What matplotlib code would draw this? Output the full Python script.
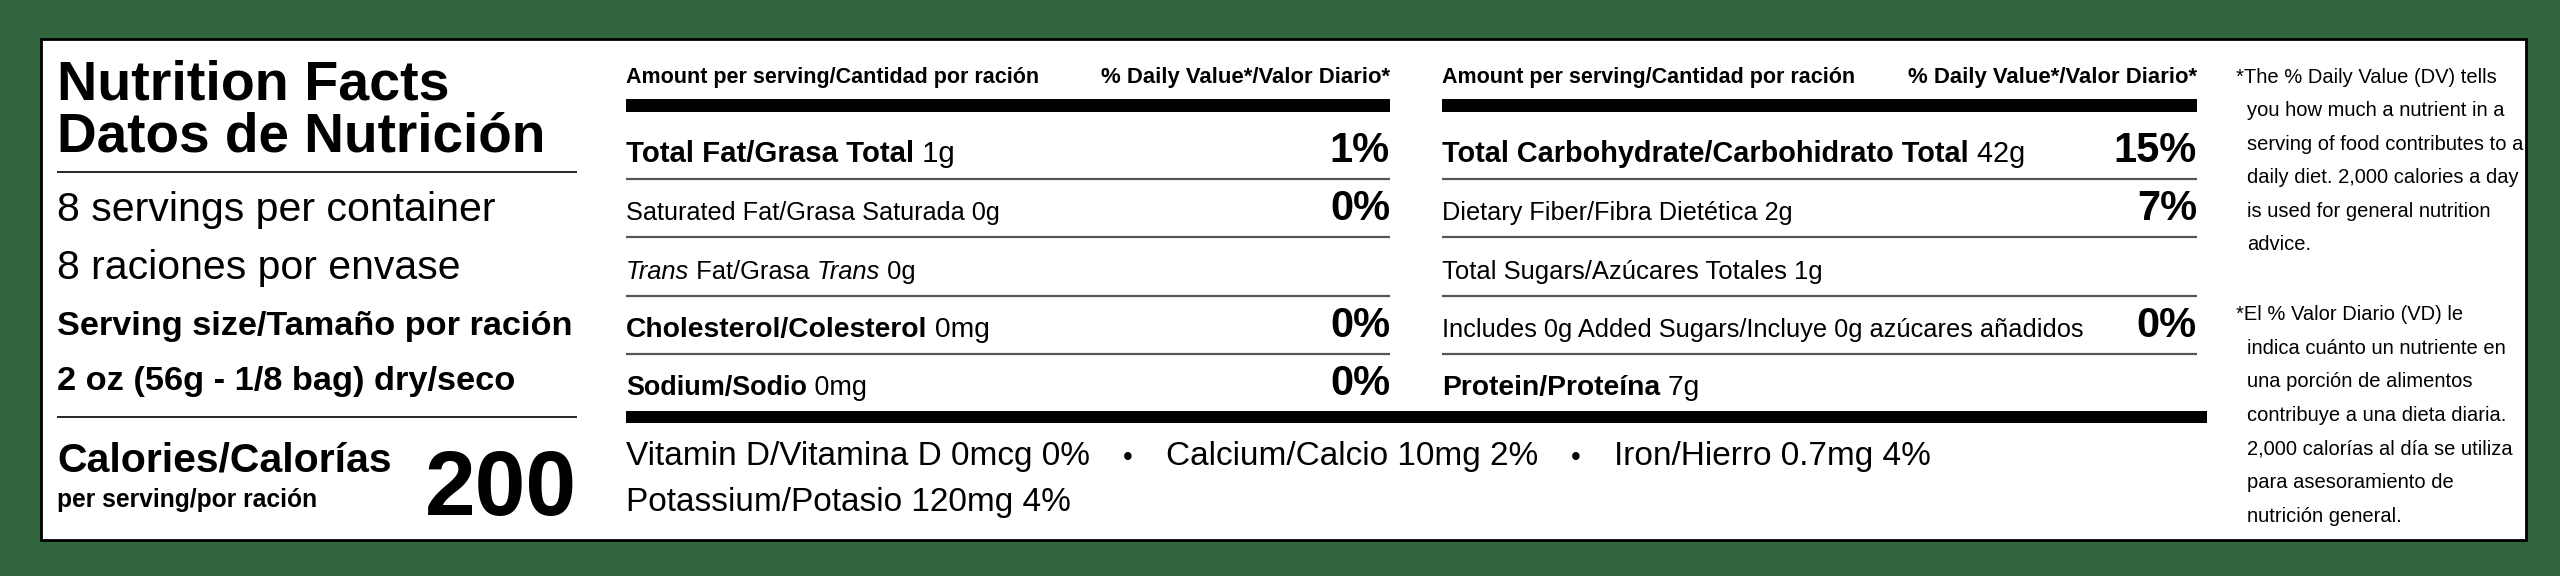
import matplotlib
matplotlib.use("Agg")
import matplotlib.pyplot as plt

# label content
servings = ["8 servings per container", "8 raciones por envase"]
serving_size = ["Serving size/Tamaño por ración", "2 oz (56g - 1/8 bag) dry/seco"]
calories = 200

left_rows = [  # (bold part, light part, daily value, row width in the label)
    ("Total Fat/Grasa Total", " 1g", "1%", 329),
    ("", "Saturated Fat/Grasa Saturada 0g", "0%", 374),
    ("", "Trans Fat/Grasa Trans 0g", "", 290),
    ("Cholesterol/Colesterol", " 0mg", "0%", 364),
    ("Sodium/Sodio", " 0mg", "0%", 242),
]
right_rows = [
    ("Total Carbohydrate/Carbohidrato Total", " 42g", "15%", 583),
    ("", "Dietary Fiber/Fibra Dietética 2g", "7%", 350),
    ("", "Total Sugars/Azúcares Totales 1g", "", 380),
    ("", "Includes 0g Added Sugars/Incluye 0g azúcares añadidos", "0%", 638),
    ("Protein/Proteína", " 7g", "", 258),
]
vitamins = ["Vitamin D/Vitamina D 0mcg 0%", "Calcium/Calcio 10mg 2%", "Iron/Hierro 0.7mg 4%"]
potassium = "Potassium/Potasio 120mg 4%"
foot_en = ["*The % Daily Value (DV) tells", "you how much a nutrient in a",
           "serving of food contributes to a", "daily diet. 2,000 calories a day",
           "is used for general nutrition", "advice."]
foot_es = ["*El % Valor Diario (VD) le", "indica cuánto un nutriente en",
           "una porción de alimentos", "contribuye a una dieta diaria.",
           "2,000 calorías al día se utiliza", "para asesoramiento de",
           "nutrición general."]

FAM = ["Liberation Sans", "DejaVu Sans"]

fig = plt.figure(figsize=(25.6, 5.76), dpi=100, facecolor="#32663f")
ax = fig.add_axes([0, 0, 1, 1])
ax.set_xlim(0, 2560)
ax.set_ylim(576, 0)
ax.axis("off")
ax.add_patch(plt.Rectangle((41, 39), 2485, 501, facecolor="white", edgecolor="black", lw=2))
renderer = fig.canvas.get_renderer()


def width(t):
    return t.get_window_extent(renderer).width


def txt(x, y, s, size, weight="normal", ha="left", style="normal", w=None):
    t = ax.text(x, y, s, fontsize=size, fontweight=weight, family=FAM,
                ha=ha, va="baseline", fontstyle=style, color="black")
    if w:
        t.set_fontsize(size * w / width(t))
    return t


def run(x, y, parts, size, w):
    # measure first, then draw at a size that gives the reference width
    tmp = [txt(0, 0, s, size, weight=wt, style=st) for s, wt, st in parts]
    total = sum(width(t) for t in tmp)
    for t in tmp:
        t.remove()
    size = size * w / total
    for s, wt, st in parts:
        t = txt(x, y, s, size, weight=wt, style=st)
        x = t.get_window_extent(renderer).x1


def hline(x0, x1, y, lw, color="black"):
    ax.plot([x0, x1], [y, y], color=color, lw=lw, solid_capstyle="butt")


# left block
txt(57, 99, "Nutrition Facts", 40, "bold", w=392)
txt(57, 151, "Datos de Nutrición", 40, "bold", w=488)
hline(57, 577, 172, 1.2)
txt(57, 221, servings[0], 29, w=439)
txt(57, 279, servings[1], 29, w=404)
txt(57, 335, serving_size[0], 28, "bold", w=516)
txt(57, 390, serving_size[1], 28, "bold", w=458)
hline(57, 577, 417, 1.2)
txt(57, 472, "Calories/Calorías", 35, "bold", w=335)
txt(57, 507, "per serving/por ración", 20, "bold", w=259)
txt(577, 515, str(calories), 76, "bold", ha="right", w=152)


def panel(x0, x1, rows):
    txt(x0, 83, "Amount per serving/Cantidad por ración", 20, "bold", w=412)
    txt(x1, 83, "% Daily Value*/Valor Diario*", 20, "bold", ha="right", w=288)
    ax.add_patch(plt.Rectangle((x0, 99), x1 - x0, 13, color="black", lw=0))
    for i, (b, l, dv, w) in enumerate(rows):
        y = 162 + i * 58.3
        if l.startswith("Trans"):
            parts = [("Trans", "normal", "italic"), (" Fat/Grasa ", "normal", "normal"),
                     ("Trans", "normal", "italic"), (" 0g", "normal", "normal")]
        else:
            parts = [(s, wt, "normal") for s, wt in ((b, "bold"), (l, "normal")) if s]
        run(x0, y, parts, 27, w)
        if dv:
            txt(x1, y, dv, 30, "bold", ha="right")
        if i < len(rows) - 1:
            hline(x0, x1, y + 17, 1.6, "#555555")


panel(626, 1390, left_rows)
panel(1442, 2197, right_rows)
ax.add_patch(plt.Rectangle((626, 411), 2207 - 626, 12, color="black", lw=0))

# vitamins
vs = 24
x = 626
for i, v in enumerate(vitamins):
    t = txt(x, 465, v, vs)
    x = t.get_window_extent(renderer).x1
    if i < len(vitamins) - 1:
        txt(x + 38, 465, "•", 20, ha="center")
        x += 76
txt(626, 511, potassium, vs)

# footnote
fs = 14.5
for i, s in enumerate(foot_en):
    txt(2236 if i == 0 else 2247, 83 + i * 33.4, s, fs)
for i, s in enumerate(foot_es):
    txt(2236 if i == 0 else 2247, 320 + i * 33.6, s, fs)

fig.savefig("out.png", dpi=100, facecolor=fig.get_facecolor())
